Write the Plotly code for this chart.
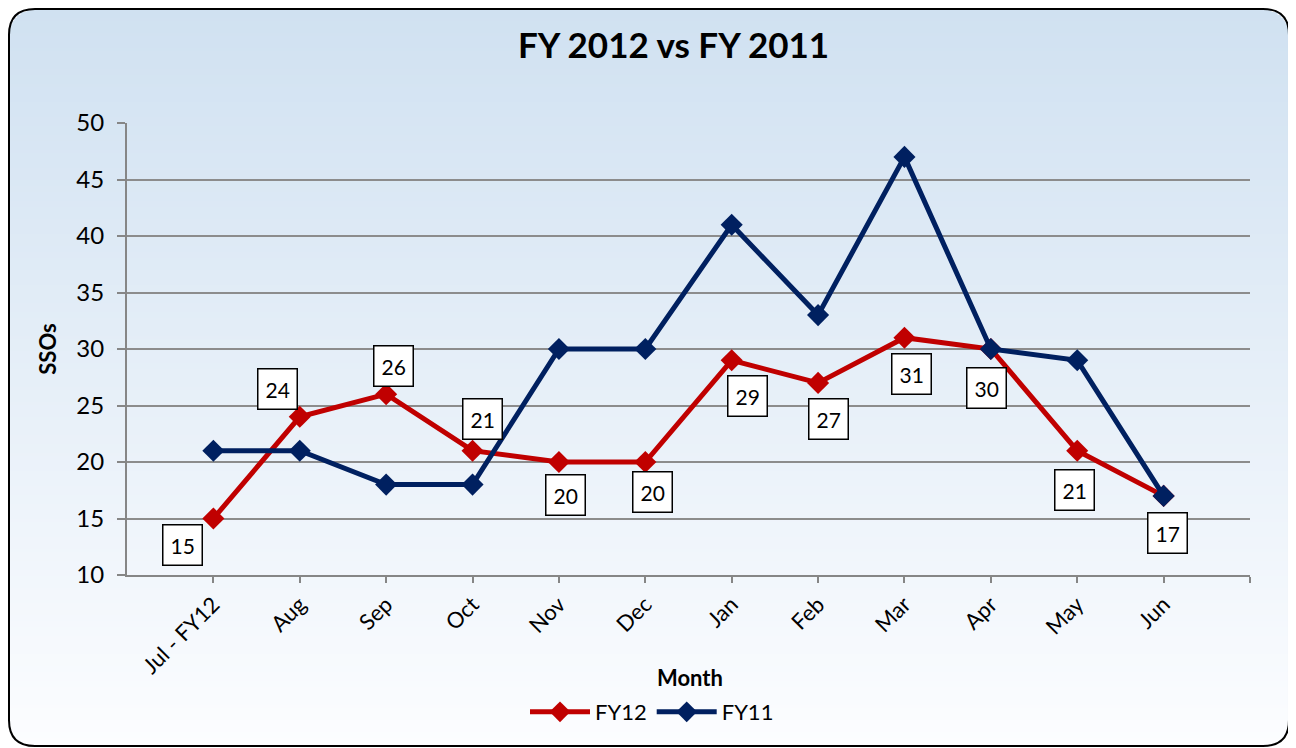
import plotly.graph_objects as go
import math

months = ["Jul - FY12", "Aug", "Sep", "Oct", "Nov", "Dec", "Jan", "Feb", "Mar", "Apr", "May", "Jun"]
fy12 = [15, 24, 26, 21, 20, 20, 29, 27, 31, 30, 21, 17]
fy11 = [21, 21, 18, 18, 30, 30, 41, 33, 47, 30, 29, 17]
# label offsets (pixels) for FY12 data labels
label_dx = [-31, -22, 7, 10, 7, 7, 16, 10, 7, -4, -3, 4]
label_dy = [-26, 28, 28, 32, -33, -30, -36, -36, -36, -39, -39, -37]

OFF = 8  # page body margin
W, H = 1288, 740
L, R, T, B = 127 - OFF, 46, 123 - OFF, 173
PW, PH = W - L - R, H - T - B
FONT = "Lato, Open Sans, sans-serif"

def px(x):
    # x given in screenshot pixels
    return (x - OFF - L) / PW

def py(y):
    return (H - B - (y - OFF)) / PH

xs = list(range(len(months)))

fig = go.Figure()
fig.add_trace(go.Scatter(x=xs, y=fy12, name="FY12", mode="lines+markers",
                         line=dict(color="#c00000", width=5),
                         marker=dict(symbol="diamond", size=17, color="#c00000")))
fig.add_trace(go.Scatter(x=xs, y=fy11, name="FY11", mode="lines+markers",
                         line=dict(color="#002060", width=5),
                         marker=dict(symbol="diamond", size=17, color="#002060")))

# background gradient with rounded corners (screenshot pixel coords)
shapes = []
x0b, x1b, y0b, y1b, rad = 9, 1289, 9, 746, 26
top = (208, 225, 241)
bot = (252, 253, 255)
step = 3
y = y0b
while y < y1b:
    ya, yb = y, min(y + step, y1b)
    ym = (ya + yb) / 2
    d = None
    if ym < y0b + rad:
        d = y0b + rad - ym
    elif ym > y1b - rad:
        d = ym - (y1b - rad)
    inset = 0
    if d is not None:
        inset = rad - math.sqrt(max(rad * rad - d * d, 0))
    t = (ym - y0b) / (y1b - y0b)
    c = tuple(int(round(top[i] + (bot[i] - top[i]) * t)) for i in range(3))
    shapes.append(dict(type="rect", xref="paper", yref="paper", layer="below",
                       x0=px(x0b + inset), x1=px(x1b - inset), y0=py(yb + 0.6), y1=py(ya),
                       line=dict(width=0), fillcolor="rgb(%d,%d,%d)" % c))
    y += step

def P(x, y):
    return "%f,%f" % (px(x), py(y))

path = ("M " + P(x0b + rad, y0b) + " L " + P(x1b - rad, y0b) +
        " Q " + P(x1b, y0b) + " " + P(x1b, y0b + rad) +
        " L " + P(x1b, y1b - rad) +
        " Q " + P(x1b, y1b) + " " + P(x1b - rad, y1b) +
        " L " + P(x0b + rad, y1b) +
        " Q " + P(x0b, y1b) + " " + P(x0b, y1b - rad) +
        " L " + P(x0b, y0b + rad) +
        " Q " + P(x0b, y0b) + " " + P(x0b + rad, y0b) + " Z")
shapes.append(dict(type="path", xref="paper", yref="paper", layer="below", path=path,
                   line=dict(color="black", width=2)))

annotations = []
for i, v in enumerate(fy12):
    annotations.append(dict(x=xs[i], y=v, xref="x", yref="y", text=str(v), showarrow=False,
                            xshift=label_dx[i], yshift=label_dy[i],
                            font=dict(family=FONT, size=21, color="black"),
                            bgcolor="white", bordercolor="black", borderwidth=1.5,
                            borderpad=7))
# title and x-axis title
annotations.append(dict(text="<b>FY 2012 vs FY 2011</b>", xref="paper", yref="paper",
                        x=px(673), y=py(44), xanchor="center", yanchor="middle", showarrow=False,
                        font=dict(family=FONT, size=35, color="black")))
annotations.append(dict(text="<b>Month</b>", xref="paper", yref="paper",
                        x=px(690), y=py(677), xanchor="center", yanchor="middle", showarrow=False,
                        font=dict(family=FONT, size=22, color="black")))

fig.update_layout(
    width=W, height=H,
    margin=dict(l=L, r=R, t=T, b=B),
    paper_bgcolor="white", plot_bgcolor="rgba(0,0,0,0)",
    font=dict(family=FONT, size=21, color="black"),
    shapes=shapes,
    annotations=annotations,
    showlegend=True,
    legend=dict(orientation="h", x=px(652), xanchor="center", y=py(712), yanchor="middle",
                font=dict(family=FONT, size=22), bgcolor="rgba(0,0,0,0)",
                itemwidth=60, tracegroupgap=0),
    xaxis=dict(range=[-1, len(months)], tickmode="array",
               tickvals=list(range(len(months) + 1)), ticktext=months + [""],
               tickangle=-45, showgrid=False, zeroline=False,
               showline=True, linecolor="#868686", linewidth=2,
               ticks="outside", ticklen=6, tickcolor="#868686", tickwidth=2,
               tickfont=dict(family=FONT, size=22)),
    yaxis=dict(range=[10, 50], dtick=5, tick0=10, showgrid=True, gridcolor="#8c8c8c", gridwidth=2,
               zeroline=False, showline=True, linecolor="#868686", linewidth=2,
               ticks="outside", ticklen=8, tickcolor="#868686", tickwidth=2,
               ticklabelstandoff=8,
               tickfont=dict(family=FONT, size=24),
               title=dict(text="<b>SSOs</b>", font=dict(family=FONT, size=22), standoff=14)),
)

fig.write_html("out.html")
